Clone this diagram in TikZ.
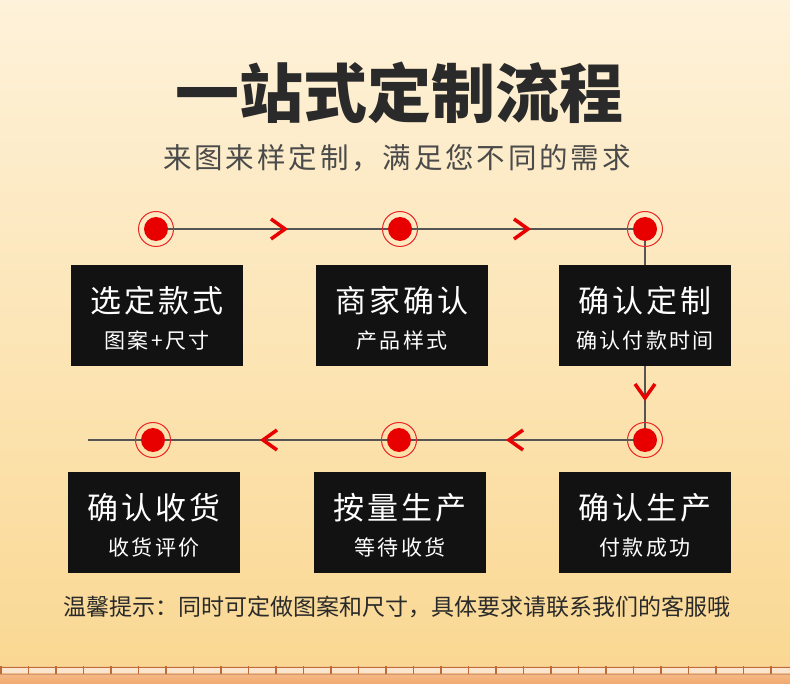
\documentclass[tikz,border=0pt]{standalone}
\usepackage{fontspec}
\newfontfamily\cjk{Noto Sans CJK SC}
\newfontfamily\cjks[LetterSpace=10]{Noto Sans CJK SC}
\newfontfamily\cjkt[LetterSpace=11]{Noto Sans CJK SC}
\definecolor{bgtop}{HTML}{FEF2DA}
\definecolor{bgbot}{HTML}{FAD893}
\definecolor{dotred}{HTML}{E80000}
\definecolor{linegrey}{HTML}{555555}
\definecolor{boxblack}{HTML}{121212}
\definecolor{txtdark}{HTML}{2A2A2A}
\definecolor{stripband}{HTML}{F5C894}
\definecolor{stripbot}{HTML}{F1A870}
\definecolor{stripseg}{HTML}{C06A35}
\tikzset{
  dotnode/.style={circle,fill=dotred,minimum size=24pt,inner sep=0pt},
  ringnode/.style={circle,draw=dotred!85,line width=1pt,minimum size=35pt,inner sep=0pt},
  stepbox/.style={fill=boxblack,minimum width=172pt,minimum height=101pt,inner sep=0pt},
  boxtitle/.style={text=white,font=\cjks\fontsize{31}{36}\selectfont,inner sep=0pt},
  boxsub/.style={text=white,font=\cjkt\fontsize{21}{24}\selectfont,inner sep=0pt},
  conn/.style={draw=linegrey,line width=1.3pt},
  chev/.style={draw=dotred,line width=3.5pt,line cap=butt,line join=miter}
}
\begin{document}
\begin{tikzpicture}[x=1pt,y=-1pt]
\useasboundingbox (0,0) rectangle (790,684);
\shade[top color=bgtop,bottom color=bgbot] (0,0) rectangle (790,668);
% bottom strip
\shade[top color=stripband,bottom color=stripbot] (0,666) rectangle (790,684);
\fill[white!55!stripband] (0,668) rectangle (790,673);
\foreach \i in {0,...,28} {\fill[stripseg] (\i*27.5,666) rectangle ++(1.5,8);}
\draw[stripseg,line width=0.7pt] (0,667) -- (790,667);
\draw[stripseg!70,line width=0.8pt] (0,674.5) -- (790,674.5);

% titles
\node[text=txtdark,font=\cjk\bfseries\fontsize{64}{70}\selectfont] (title) at (399,93) {一站式定制流程};
\node[text=txtdark!85,font=\cjks\fontsize{28.5}{34}\selectfont] (sub) at (397,158) {来图来样定制，满足您不同的需求};

% coordinates
\coordinate (c1) at (156,229);
\coordinate (c2) at (400,229);
\coordinate (c3) at (645,229);
\coordinate (c4) at (645,440);
\coordinate (c5) at (399,440);
\coordinate (c6) at (153,440);
\coordinate (lend) at (88,440);

% connectors
\draw[conn] (c1) -- (c2) -- (c3) -- (c4) -- (c5) -- (c6) -- (lend);

% boxes
\node[stepbox] (b1) at (157,315.5) {};
\node[stepbox] (b2) at (402,315.5) {};
\node[stepbox] (b3) at (645,315.5) {};
\node[stepbox] (b4) at (154,522.5) {};
\node[stepbox] (b5) at (400,522.5) {};
\node[stepbox] (b6) at (645,522.5) {};
\node[boxtitle] (t1) at ([yshift=15]b1.center) {选定款式};
\node[boxsub]   (s1) at ([yshift=-25]b1.center) {图案+尺寸};
\node[boxtitle] (t2) at ([yshift=15]b2.center) {商家确认};
\node[boxsub]   (s2) at ([yshift=-25]b2.center) {产品样式};
\node[boxtitle] (t3) at ([yshift=15]b3.center) {确认定制};
\node[boxsub]   (s3) at ([yshift=-25]b3.center) {确认付款时间};
\node[boxtitle] (t4) at ([yshift=15]b4.center) {确认收货};
\node[boxsub]   (s4) at ([yshift=-25]b4.center) {收货评价};
\node[boxtitle] (t5) at ([yshift=15]b5.center) {按量生产};
\node[boxsub]   (s5) at ([yshift=-25]b5.center) {等待收货};
\node[boxtitle] (t6) at ([yshift=15]b6.center) {确认生产};
\node[boxsub]   (s6) at ([yshift=-25]b6.center) {付款成功};

% dots
\foreach \c in {c1,c2,c3,c4,c5,c6} {
  \node[ringnode] (r\c) at (\c) {};
  \node[dotnode] (d\c) at (\c) {};
}

% chevrons
\coordinate (a1) at (278,229);
\coordinate (a2) at (521,229);
\coordinate (a3) at (645,391);
\coordinate (a4) at (516,440);
\coordinate (a5) at (270,440);
\draw[chev] ([shift={(-7,-10)}]a1) -- ([shift={(7,0)}]a1) -- ([shift={(-7,10)}]a1);
\draw[chev] ([shift={(-7,-10)}]a2) -- ([shift={(7,0)}]a2) -- ([shift={(-7,10)}]a2);
\draw[chev] ([shift={(-10,-7)}]a3) -- ([shift={(0,7)}]a3) -- ([shift={(10,-7)}]a3);
\draw[chev] ([shift={(7,-10)}]a4) -- ([shift={(-7,0)}]a4) -- ([shift={(7,10)}]a4);
\draw[chev] ([shift={(7,-10)}]a5) -- ([shift={(-7,0)}]a5) -- ([shift={(7,10)}]a5);

% footer
\node[text=txtdark,font=\cjk\fontsize{23}{26}\selectfont] (foot) at (397,607) {温馨提示：同时可定做图案和尺寸，具体要求请联系我们的客服哦};
\end{tikzpicture}
\end{document}
